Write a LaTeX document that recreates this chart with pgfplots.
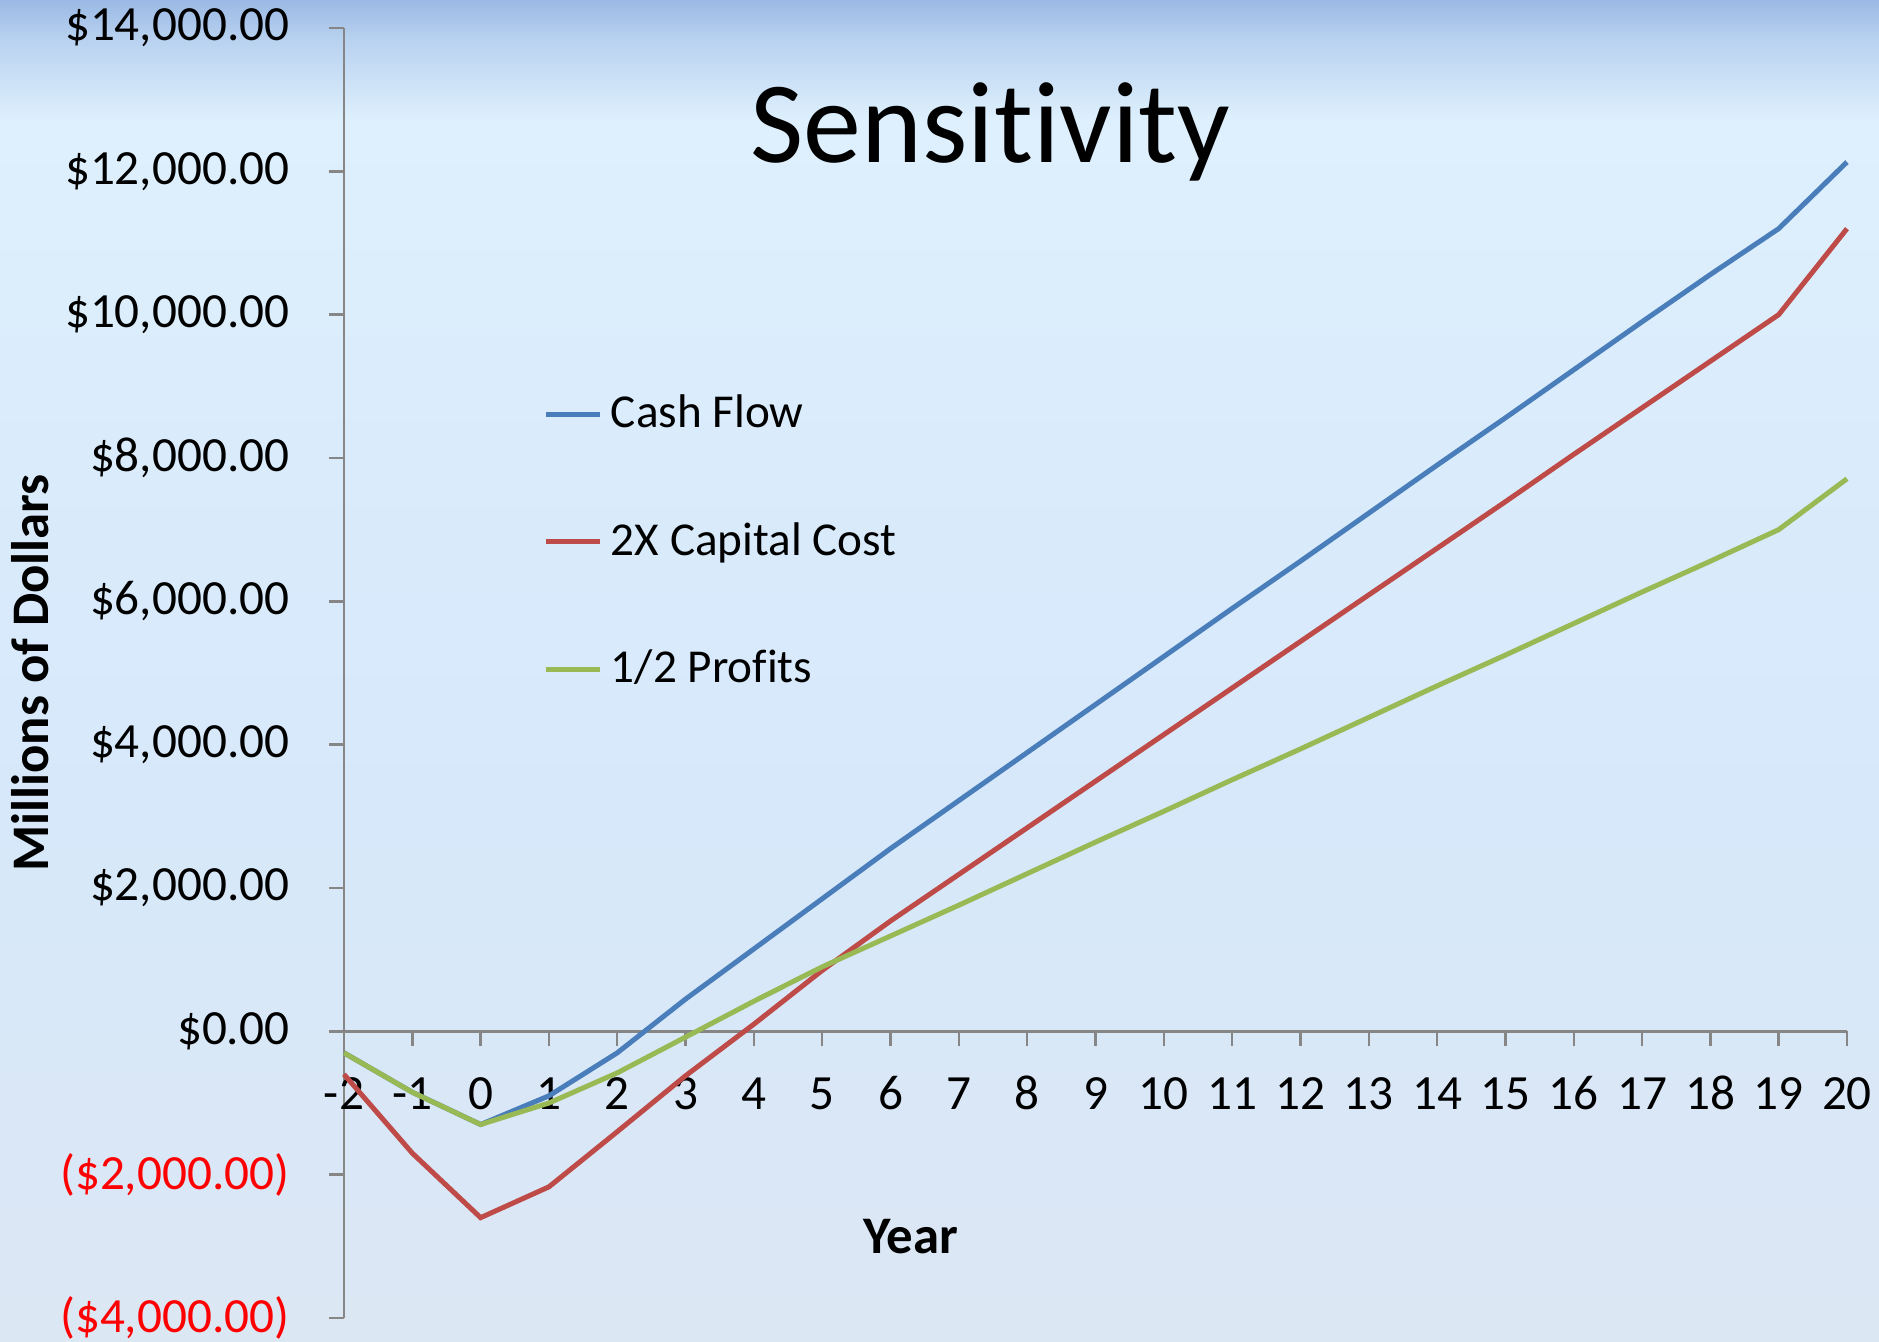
\documentclass[border=0pt]{standalone}
\usepackage{pgfplots}
\pgfplotsset{compat=1.18}
\usepackage{fontspec}
\setmainfont[Ligatures=NoCommon]{Carlito}
\definecolor{cfblue}{RGB}{74,126,187}
\definecolor{capred}{RGB}{190,75,72}
\definecolor{profgreen}{RGB}{152,185,84}
\definecolor{axgray}{RGB}{134,134,134}
\definecolor{bgtop}{RGB}{155,185,228}
\definecolor{bgtop2}{RGB}{185,210,240}
\definecolor{bglight}{RGB}{222,240,253}
\definecolor{bgmid}{RGB}{214,232,250}
\definecolor{bgbot}{RGB}{220,231,244}
\pgfdeclareverticalshading{bgshade}{100bp}{color(0bp)=(bgbot); color(25bp)=(bgbot); color(45bp)=(bgmid); color(70.5bp)=(bglight); color(73.5bp)=(bgtop2); color(75bp)=(bgtop); color(100bp)=(bgtop)}
\pgfplotstableread{
year cash cap half
-2 -300 -600 -300
-1 -850 -1700 -850
0 -1300 -2600 -1300
1 -900 -2170 -1000
2 -300 -1400 -580
3 450 -620 -80
4 1150 100 420
5 1850 850 900
6 2550 1540 1330
7 3220 2190 1760
8 3890 2840 2200
9 4560 3490 2640
10 5230 4140 3070
11 5900 4790 3510
12 6560 5440 3940
13 7230 6090 4380
14 7900 6740 4820
15 8560 7390 5250
16 9230 8050 5690
17 9900 8700 6130
18 10560 9350 6560
19 11200 10000 7000
20 12130 11200 7710
}\datatable
\begin{document}
\begin{tikzpicture}
\shade[shading=bgshade] (0,0) rectangle (469.75pt,335.5pt);
\useasboundingbox (0,0) rectangle (469.75pt,335.5pt);
\begin{axis}[
  at={(86pt,6pt)}, anchor=south west,
  width=375.75pt, height=322.5pt, scale only axis,
  xmin=-2, xmax=20, ymin=-4000, ymax=14000,
  axis x line*=middle, axis y line*=left,
  hide obscured x ticks=false,
  axis line style={axgray, line width=0.6pt},
  xtick={-2,...,20},
  xticklabel={\strut\pgfmathparse{int(\tick)}\pgfmathresult},
  ytick={-4000,-2000,0,2000,4000,6000,8000,10000,12000,14000},
  yticklabels={{\textcolor{red}{(\$4,000.00)}},{\textcolor{red}{(\$2,000.00)}},{\$0.00},{\$2,000.00},{\$4,000.00},{\$6,000.00},{\$8,000.00},{\$10,000.00},{\$12,000.00},{\$14,000.00}},
  tick style={axgray, line width=0.6pt},
  major tick length=3.75pt,
  xtick align=outside, ytick align=outside,
  tick label style={font=\fontsize{12.3}{14}\selectfont, text=black},
  yticklabel style={xshift=-6.4pt},
  xticklabel style={anchor=north, yshift=-5.7pt, inner sep=0pt},
  ylabel={\textbf{Millions of Dollars}},
  ylabel style={font=\fontsize{13.2}{15}\selectfont, at={(axis description cs:-0.2089,0.5)}, anchor=center},
  xlabel={\textbf{Year}},
  xlabel style={font=\fontsize{13.2}{15}\selectfont, at={(axis description cs:0.377,0.063)}, anchor=center},
  legend style={draw=none, fill=none, at={(axis description cs:0.1325,0.6016)}, anchor=west, font=\fontsize{11.8}{13}\selectfont, row sep=18.2pt, inner sep=0pt},
  legend cell align=left,
  legend image code/.code={\draw[#1] (0pt,0pt) -- (13.5pt,0pt);},
  clip=false,
]
\addplot[cfblue, line width=1.25pt] table[x=year,y=cash] {\datatable};
\addlegendentry{Cash Flow}
\addplot[capred, line width=1.25pt] table[x=year,y=cap] {\datatable};
\addlegendentry{2X Capital Cost}
\addplot[profgreen, line width=1.25pt] table[x=year,y=half] {\datatable};
\addlegendentry{1/2 Profits}
\node[anchor=base, font=\fontsize{29}{34}\selectfont] at (axis description cs:0.43,0.896) {Sensitivity};
\end{axis}
\end{tikzpicture}
\end{document}
